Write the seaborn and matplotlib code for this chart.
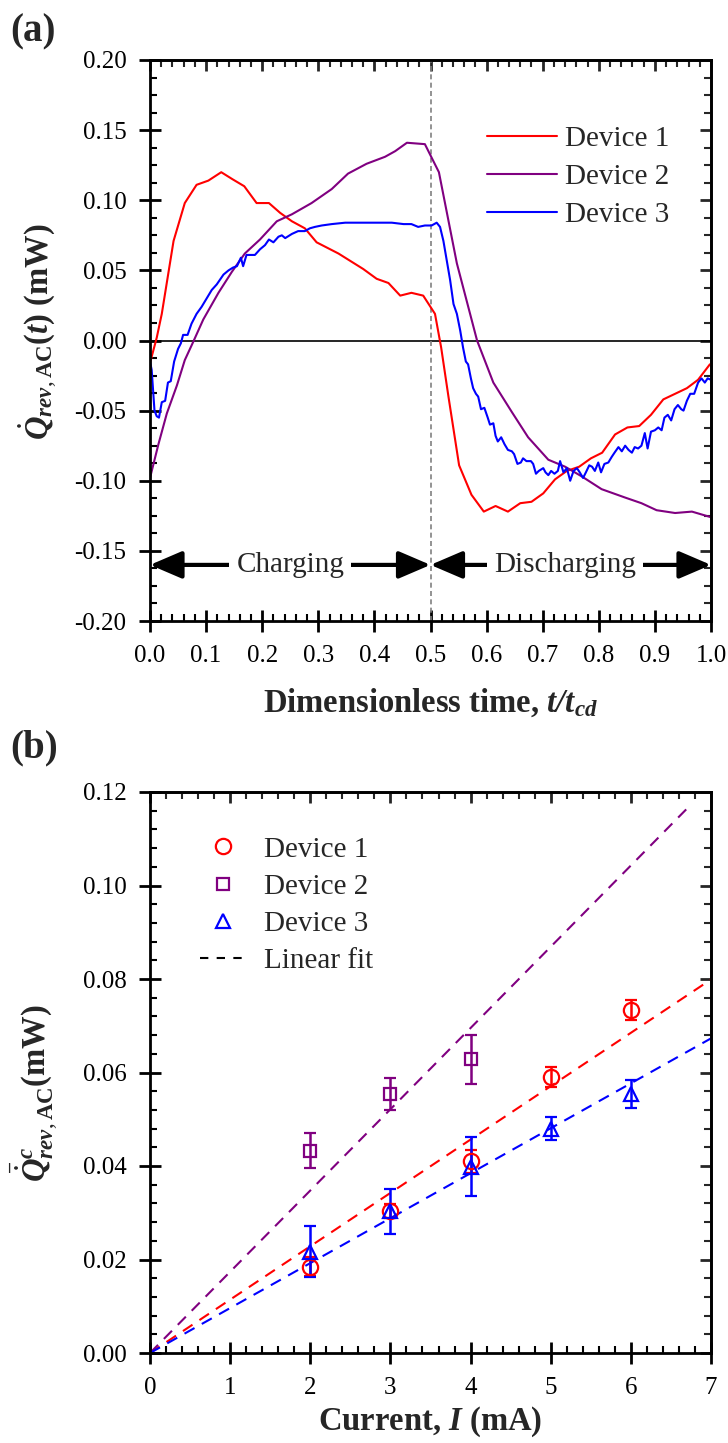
import matplotlib
matplotlib.use("Agg")
import matplotlib.pyplot as plt
from matplotlib.ticker import MultipleLocator, FormatStrFormatter, NullFormatter
from matplotlib.lines import Line2D
import numpy as np
import seaborn as sns

sns.set_style("ticks")
plt.rcParams['font.family'] = ['Liberation Serif', 'DejaVu Serif']
plt.rcParams['mathtext.fontset'] = 'custom'
plt.rcParams['mathtext.rm'] = 'Liberation Serif'
plt.rcParams['mathtext.it'] = 'Liberation Serif:italic'
plt.rcParams['mathtext.bf'] = 'Liberation Serif:bold'
plt.rcParams['mathtext.bfit'] = 'Liberation Serif:bold:italic'
plt.rcParams['axes.unicode_minus'] = False

# ---- panel (a): heat generation vs dimensionless time ----
t_dev1 = [0.0, 0.012, 0.021, 0.042, 0.062, 0.083, 0.104, 0.127, 0.147, 0.168,
          0.190, 0.212, 0.232, 0.253, 0.276, 0.297, 0.336, 0.360, 0.380, 0.404,
          0.425, 0.446, 0.466, 0.487, 0.508, 0.519, 0.532, 0.551, 0.573, 0.595,
          0.616, 0.638, 0.660, 0.680, 0.701, 0.722, 0.743, 0.765, 0.786, 0.806,
          0.829, 0.851, 0.872, 0.893, 0.915, 0.936, 0.957, 0.977, 0.998]
q_dev1 = [-0.016, 0.002, 0.019, 0.071, 0.098, 0.111, 0.114, 0.120, 0.115, 0.110,
          0.098, 0.098, 0.091, 0.085, 0.080, 0.070, 0.062, 0.056, 0.051, 0.044,
          0.041, 0.032, 0.034, 0.032, 0.019, -0.005, -0.040, -0.089, -0.110, -0.122,
          -0.118, -0.122, -0.116, -0.115, -0.109, -0.099, -0.093, -0.090, -0.084, -0.080,
          -0.067, -0.062, -0.061, -0.053, -0.042, -0.038, -0.034, -0.028, -0.017]

t_dev2 = [0.0, 0.015, 0.030, 0.048, 0.062, 0.077, 0.095, 0.122, 0.146, 0.169,
          0.196, 0.226, 0.253, 0.288, 0.324, 0.353, 0.386, 0.419, 0.437, 0.458,
          0.490, 0.515, 0.547, 0.583, 0.612, 0.645, 0.674, 0.710, 0.740, 0.770,
          0.805, 0.847, 0.876, 0.903, 0.936, 0.966, 1.0]
q_dev2 = [-0.098, -0.074, -0.052, -0.032, -0.014, -0.001, 0.015, 0.034, 0.049, 0.062,
          0.072, 0.085, 0.090, 0.098, 0.108, 0.119, 0.126, 0.131, 0.135, 0.141,
          0.140, 0.120, 0.055, 0.0, -0.030, -0.051, -0.069, -0.085, -0.090, -0.097,
          -0.106, -0.112, -0.116, -0.121, -0.123, -0.122, -0.126]

t_dev3 = [0.0, 0.003, 0.008, 0.012, 0.016, 0.021, 0.027, 0.032, 0.037, 0.043,
          0.050, 0.055, 0.059, 0.067, 0.074, 0.083, 0.092, 0.101, 0.110, 0.119,
          0.131, 0.140, 0.148, 0.155, 0.162, 0.166, 0.172, 0.181, 0.187, 0.196,
          0.205, 0.212, 0.220, 0.229, 0.235, 0.241, 0.253, 0.264, 0.276, 0.285,
          0.294, 0.306, 0.324, 0.348, 0.377, 0.407, 0.431, 0.452, 0.466, 0.478,
          0.490, 0.502, 0.511, 0.517, 0.523, 0.529, 0.535, 0.541, 0.547, 0.553,
          0.558, 0.563, 0.567, 0.572, 0.576, 0.581, 0.585, 0.590, 0.596, 0.602,
          0.606, 0.612, 0.616, 0.620, 0.626, 0.632, 0.638, 0.645, 0.649, 0.655,
          0.661, 0.665, 0.671, 0.679, 0.683, 0.688, 0.693, 0.701, 0.705, 0.710,
          0.715, 0.721, 0.727, 0.731, 0.737, 0.743, 0.749, 0.755, 0.761, 0.766,
          0.772, 0.777, 0.783, 0.788, 0.793, 0.799, 0.804, 0.810, 0.817, 0.823,
          0.828, 0.835, 0.841, 0.847, 0.853, 0.859, 0.864, 0.870, 0.876, 0.882,
          0.887, 0.893, 0.900, 0.906, 0.912, 0.917, 0.923, 0.929, 0.935, 0.941,
          0.947, 0.951, 0.957, 0.963, 0.970, 0.977, 0.983, 0.989, 0.994, 1.0]
q_dev3 = [-0.015, -0.021, -0.050, -0.054, -0.055, -0.044, -0.043, -0.030, -0.029, -0.015,
          -0.006, -0.002, 0.004, 0.004, 0.012, 0.019, 0.024, 0.030, 0.036, 0.040,
          0.047, 0.050, 0.052, 0.053, 0.059, 0.053, 0.061, 0.061, 0.061, 0.065,
          0.068, 0.072, 0.070, 0.074, 0.075, 0.073, 0.076, 0.078, 0.078, 0.080,
          0.081, 0.082, 0.083, 0.084, 0.084, 0.084, 0.084, 0.083, 0.083, 0.081,
          0.082, 0.082, 0.084, 0.081, 0.071, 0.057, 0.043, 0.026, 0.019, 0.007,
          -0.005, -0.015, -0.017, -0.027, -0.034, -0.038, -0.040, -0.049, -0.048, -0.055,
          -0.060, -0.059, -0.068, -0.072, -0.069, -0.074, -0.078, -0.079, -0.081, -0.088,
          -0.087, -0.084, -0.086, -0.086, -0.088, -0.095, -0.093, -0.091, -0.094, -0.096,
          -0.093, -0.095, -0.093, -0.086, -0.094, -0.091, -0.100, -0.093, -0.091, -0.094,
          -0.098, -0.094, -0.089, -0.090, -0.093, -0.087, -0.094, -0.088, -0.087, -0.083,
          -0.080, -0.076, -0.079, -0.075, -0.078, -0.080, -0.076, -0.077, -0.075, -0.066,
          -0.077, -0.065, -0.064, -0.062, -0.064, -0.055, -0.053, -0.057, -0.049, -0.046,
          -0.049, -0.050, -0.043, -0.038, -0.038, -0.030, -0.027, -0.030, -0.027, -0.028]

# ---- panel (b): averaged heat vs current ----
current = [2, 3, 4, 5, 6]
qc_dev1 = [0.0185, 0.0303, 0.0410, 0.0590, 0.0734]
err_dev1 = [0.0020, 0.0015, 0.0025, 0.0022, 0.0022]
current2 = [2, 3, 4]
qc_dev2 = [0.0433, 0.0554, 0.0628]
err_dev2 = [0.0038, 0.0035, 0.0053]
qc_dev3 = [0.0217, 0.0303, 0.0398, 0.0480, 0.0553]
err_dev3 = [0.0055, 0.0048, 0.0063, 0.0025, 0.0030]
fit_end = [7.0, 6.7, 7.0]

labels = ['Device 1', 'Device 2', 'Device 3']
colors = ['#FF0000', '#800080', '#0000FF']

FS_TICK = 18
FS_LEG = 21
FS_LAB = 23.5

W, H = 728, 1443
fig = plt.figure(figsize=(W/100, H/100), dpi=100)
ax1 = fig.add_axes([150/W, 1-621/H, 561/W, 561/H])
ax2 = fig.add_axes([150/W, 1-1353/H, 561/W, 561/H])


def style_axes(ax, xmaj, xmin, ymaj, ymin):
    ax.xaxis.set_major_locator(MultipleLocator(xmaj))
    ax.xaxis.set_minor_locator(MultipleLocator(xmin))
    ax.yaxis.set_major_locator(MultipleLocator(ymaj))
    ax.yaxis.set_minor_locator(MultipleLocator(ymin))
    for s in ax.spines.values():
        s.set_linewidth(2)
        s.set_color('k')
    # left/bottom: major ticks cross the spine, minor inside
    ax.tick_params(which='both', top=False, right=False, labelsize=FS_TICK,
                   colors='k', pad=9)
    ax.tick_params(which='major', direction='inout', length=16, width=2)
    ax.tick_params(which='minor', direction='in', length=5, width=1.5)
    # top/right: inside ticks only, no labels
    top = ax.secondary_xaxis('top')
    right = ax.secondary_yaxis('right')
    top.xaxis.set_major_locator(MultipleLocator(xmaj))
    top.xaxis.set_minor_locator(MultipleLocator(xmin))
    right.yaxis.set_major_locator(MultipleLocator(ymaj))
    right.yaxis.set_minor_locator(MultipleLocator(ymin))
    for sec in (top, right):
        sec.tick_params(which='major', direction='in', length=8, width=2)
        sec.tick_params(which='minor', direction='in', length=5, width=1.5)
        for s in sec.spines.values():
            s.set_linewidth(2)
    top.xaxis.set_major_formatter(NullFormatter())
    right.yaxis.set_major_formatter(NullFormatter())


# panel (a)
ax1.axhline(0, color='k', lw=1.2, zorder=1)
ax1.axvline(0.5, color='gray', lw=1.2, ls=(0, (3, 2)), zorder=1)
for t, q, lab, c in zip([t_dev1, t_dev2, t_dev3], [q_dev1, q_dev2, q_dev3], labels, colors):
    sns.lineplot(x=t, y=q, ax=ax1, color=c, lw=1.5, label=lab, estimator=None, sort=False)

ax1.set_xlim(0, 1)
ax1.set_ylim(-0.2, 0.2)
style_axes(ax1, 0.1, 0.02, 0.05, 0.0125)
ax1.xaxis.set_major_formatter(FormatStrFormatter('%.1f'))
ax1.yaxis.set_major_formatter(FormatStrFormatter('%.2f'))
ax1.set_xlabel(r'Dimensionless time, $\mathbfit{t/t}_{\mathbfit{cd}}$',
               fontsize=FS_LAB, fontweight='bold', labelpad=14)
ax1.set_ylabel(r'$\dot{\mathbfit{Q}}_{\mathbfit{rev},\mathbf{AC}}\mathbf{(}\mathbfit{t}\mathbf{)}$ (mW)',
               fontsize=FS_LAB, fontweight='bold')
ax1.yaxis.set_label_coords(-0.16, 0.515)
ax1.legend(loc='upper left', bbox_to_anchor=(0.554, 0.93), frameon=False,
           fontsize=FS_LEG, handlelength=2.4, handletextpad=0.28, labelspacing=0.4)

arrow_kw = dict(arrowstyle='<|-|>,head_length=0.7,head_width=0.3', lw=3, color='k',
                shrinkA=0, shrinkB=0, mutation_scale=28)
ax1.annotate('', xy=(0.0, -0.16), xytext=(0.5, -0.16), arrowprops=arrow_kw, zorder=3)
ax1.annotate('', xy=(0.5, -0.16), xytext=(1.0, -0.16), arrowprops=arrow_kw, zorder=3)
for xc, txt in [(0.25, 'Charging'), (0.74, 'Discharging')]:
    ax1.text(xc, -0.16, txt, ha='center', va='center', fontsize=FS_LEG, zorder=4,
             bbox=dict(facecolor='white', edgecolor='none', pad=5))

# panel (b)
markers = ['o', 's', '^']
msizes = [11, 8, 10]
xs = [current, current2, current]
ys = [qc_dev1, qc_dev2, qc_dev3]
es = [err_dev1, err_dev2, err_dev3]
for x, y, e, c, m, ms, xe in zip(xs, ys, es, colors, markers, msizes, fit_end):
    x = np.asarray(x, float)
    y = np.asarray(y, float)
    slope = np.sum(x * y) / np.sum(x * x)
    xf = np.array([0.0, xe])
    sns.lineplot(x=xf, y=slope * xf, ax=ax2, color=c, lw=1.5,
                 estimator=None, legend=False).lines[-1].set_dashes((5.5, 4))
    ax2.errorbar(x, y, yerr=e, fmt=m, color=c, mfc='none', mec=c, ms=ms, mew=1.6,
                 elinewidth=1.8, capsize=4, capthick=1.8, zorder=3)

ax2.set_xlim(0, 7)
ax2.set_ylim(0, 0.12)
style_axes(ax2, 1, 0.2, 0.02, 0.004)
ax2.xaxis.set_major_formatter(FormatStrFormatter('%d'))
ax2.yaxis.set_major_formatter(FormatStrFormatter('%.2f'))
ax2.set_xlabel(r'Current, $\mathbfit{I}$ (mA)', fontsize=FS_LAB, fontweight='bold', labelpad=4)
ax2.set_ylabel(r'$\bar{\dot{\mathbfit{Q}}}^{\mathbfit{c}}_{\mathbfit{rev},\mathbf{AC}}$(mW)',
               fontsize=FS_LAB, fontweight='bold')
ax2.yaxis.set_label_coords(-0.16, 0.463)

handles = [Line2D([], [], ls='none', marker=m, mfc='none', mec=c, ms=ms, mew=1.6)
           for m, c, ms in zip(markers, colors, msizes)]
handles.append(Line2D([], [], color='k', lw=1.5, ls=(0, (4, 4))))
ax2.legend(handles, labels + ['Linear fit'], loc='upper left', bbox_to_anchor=(0.042, 0.968),
           frameon=False, fontsize=FS_LEG, handlelength=1.6, handletextpad=0.6,
           labelspacing=0.37, numpoints=1)

fig.text(10/W, 1-32/H, '(a)', fontsize=28, fontweight='bold', va='center', ha='left')
fig.text(10/W, 1-748/H, '(b)', fontsize=28, fontweight='bold', va='center', ha='left')

fig.savefig('out.png', dpi=100)
